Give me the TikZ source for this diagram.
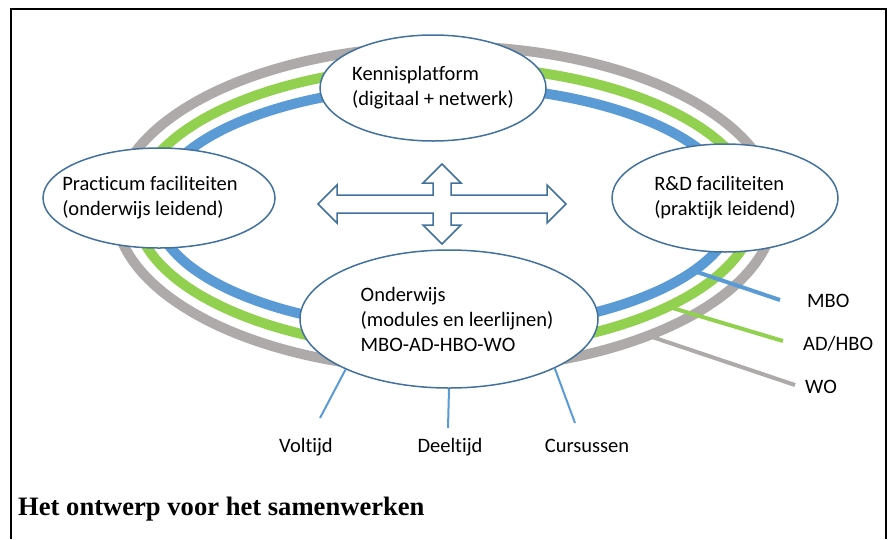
\documentclass[tikz,border=0pt]{standalone}
\usepackage{fontspec}
\setmainfont{Carlito}[Ligatures={NoCommon}]
\newfontfamily\titlefont{Liberation Serif}
\usepackage{tikz}
\usetikzlibrary{shapes.geometric, arrows, positioning}
\definecolor{ringgray}{HTML}{AEAAAA}
\definecolor{ringgreen}{HTML}{92D050}
\definecolor{ringblue}{HTML}{5B9BD5}
\definecolor{edgeblue}{HTML}{41719C}
\tikzstyle{bubble} = [ellipse, draw=edgeblue, fill=white, line width=1.5pt, inner sep=0pt]
\tikzstyle{bubbletext} = [align=left, font=\fontsize{20.5}{25}\selectfont, inner sep=0pt]
\tikzstyle{ring} = [line width=10pt]
\tikzstyle{legendline} = [line width=4pt]
\tikzstyle{modeline} = [ringblue, line width=2pt]
\tikzstyle{tag} = [font=\fontsize{20.5}{25}\selectfont, inner sep=0pt]

\begin{document}
\begin{tikzpicture}[x=1pt, y=-1pt, node distance=110pt]
                        \useasboundingbox (0,0) rectangle (891,539);
                        \draw [line width=2pt] (11,539) -- (11,9) -- (886,9) -- (886,539);
                        \coordinate (ring) at (445,208);
                        \draw [ring, ringgray] (ring) ellipse [x radius=330, y radius=162];
                        \draw [ring, ringgreen] (ring) ellipse [x radius=310, y radius=142];
                        \draw [ring, ringblue] (ring) ellipse [x radius=290, y radius=122];
                        \path (ring) ++(31:290 and 122) coordinate (mboA);
                        \path (ring) ++(44:310 and 142) coordinate (adhboA);
                        \path (ring) ++(52:330 and 162) coordinate (woA);
                        \coordinate (mboB) at (780,300);
                        \coordinate (adhboB) at (783,341);
                        \coordinate (woB) at (795,385);
                        \draw [legendline, ringgray] (woA) -- (woB);
                        \draw [legendline, ringgreen] (adhboA) -- (adhboB);
                        \draw [legendline, ringblue] (mboA) -- (mboB);
                        \node (KP) [bubble, minimum width=226pt, minimum height=106pt, label={[bubbletext]center:Kennisplatform\\(digitaal + netwerk)}] at (433,88) {};
                        \node (PF) [bubble, below of=KP, xshift=-274pt, minimum width=232pt, minimum height=100pt, label={[bubbletext, xshift=-9pt]center:Practicum faciliteiten\\(onderwijs leidend)}] {};
                        \node (RD) [bubble, below of=KP, xshift=292pt, minimum width=226pt, minimum height=108pt, label={[bubbletext]center:R\&D faciliteiten\\(praktijk leidend)}] {};
                        \node (OW) [bubble, below of=KP, xshift=16pt, yshift=-121pt, minimum width=298pt, minimum height=138pt, label={[bubbletext, xshift=8pt]center:Onderwijs\\(modules en leerlijnen)\\MBO-AD-HBO-WO}] {};
                        \coordinate (hub) at (442,204);
                        \begin{scope}[shift={(hub)}]
                        \draw [edgeblue, line width=1.5pt, fill=white] (-124,0) -- (-105,-19) -- (-105,-9) -- (-9,-9) -- (-9,-21) -- (-19,-21) -- (0,-40) -- (19,-21) -- (9,-21) -- (9,-9) -- (105,-9) -- (105,-19) -- (124,0) -- (105,19) -- (105,9) -- (9,9) -- (9,21) -- (19,21) -- (0,40) -- (-19,21) -- (-9,21) -- (-9,9) -- (-105,9) -- (-105,19) -- cycle;
                        \end{scope}
                        \node (MBO) [tag, anchor=base west] at (807,307) {MBO};
                        \node (ADHBO) [tag, anchor=base west] at (803,350) {AD/HBO};
                        \node (WO) [tag, anchor=base west] at (805,393) {WO};
                        \node (VT) [tag, anchor=base] at (306,452) {Voltijd};
                        \node (DT) [tag, anchor=base] at (450,452) {Deeltijd};
                        \node (CU) [tag, anchor=base] at (587,452) {Cursussen};
                        \coordinate (vtEnd) at (320,418);
                        \coordinate (dtEnd) at (448,428);
                        \coordinate (cuEnd) at (575,423);
                        \draw [modeline] (OW.206) -- (vtEnd);
                        \draw [modeline] (OW.270) -- (dtEnd);
                        \draw [modeline] (OW.335) -- (cuEnd);
                        \node (title) [anchor=base west, inner sep=0pt, font=\titlefont\bfseries\fontsize{26.6}{30}\selectfont] at (18,515) {Het ontwerp voor het samenwerken};
                    \end{tikzpicture}
\end{document}
